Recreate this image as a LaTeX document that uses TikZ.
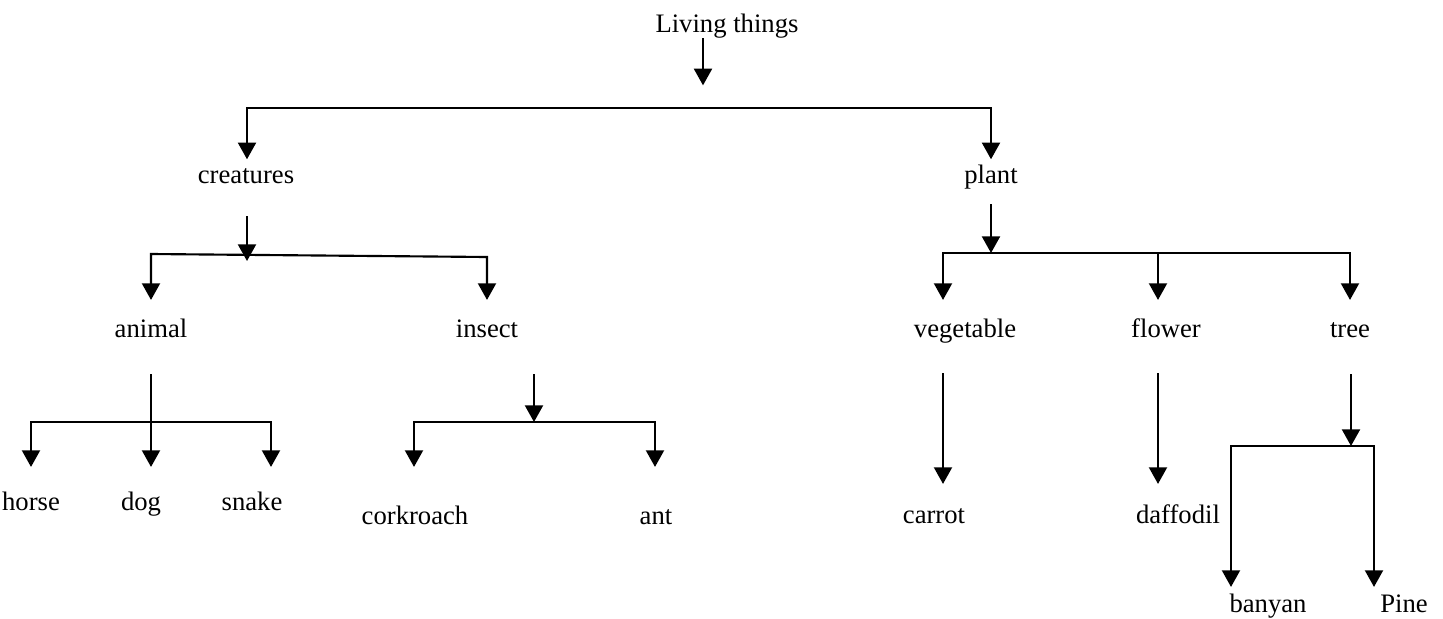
\documentclass[tikz,border=0pt]{standalone}
\usepackage{fontspec}
\setmainfont{Liberation Serif}
\usetikzlibrary{arrows.meta}

\begin{document}
\begin{tikzpicture}[x=0.75pt,y=-0.75pt,>={Triangle[width=13.5pt,length=12.5pt]},line width=1.6pt,
  every node/.style={font=\fontsize{20}{24}\selectfont,inner sep=0pt,text height=14pt,text depth=4pt,anchor=base}]

\useasboundingbox (0,0) rectangle (1443,618);

\node (living)    at (727,32)  {Living things};
\node (creatures) at (246,183) {creatures};
\node (plant)     at (991,183) {plant};
\node (animal)    at (151,337) {animal};
\node (insect)    at (487,337) {insect};
\node (vegetable) at (965,337) {vegetable};
\node (flower)    at (1166,337) {flower};
\node (tree)      at (1350,337) {tree};
\node (horse)     at (31,510)  {horse};
\node (dog)       at (141,510) {dog};
\node (snake)     at (252,510) {snake};
\node (corkroach) at (415,524) {corkroach};
\node (ant)       at (656,524) {ant};
\node (carrot)    at (934,523) {carrot};
\node (daffodil)  at (1178,523) {daffodil};
\node (banyan)    at (1268,612) {banyan};
\node (pine)      at (1404,612) {Pine};

% branch bars
\coordinate (b0) at (703,108);  \coordinate (b0l) at (247,108); \coordinate (b0r) at (991,108);
\coordinate (b1) at (247,261);  \coordinate (b1l) at (151,254); \coordinate (b1r) at (487,257);
\coordinate (b2) at (151,422);  \coordinate (b2l) at (31,422);  \coordinate (b2r) at (271,422);
\coordinate (b3) at (534,422);  \coordinate (b3l) at (414,422); \coordinate (b3r) at (655,422);
\coordinate (b4) at (991,253);  \coordinate (b4l) at (943,253); \coordinate (b4m) at (1158,253); \coordinate (b4r) at (1350,253);
\coordinate (b5) at (1351,446); \coordinate (b5l) at (1231,446); \coordinate (b5r) at (1374,446);

% living things
\draw[->,shorten >=17pt] (b0 |- living.south) -- (b0);
\draw[<->,shorten <=3pt,shorten >=3pt] (b0l |- creatures.north) -- (b0l) -- (b0r) -- (b0r |- plant.north);

% creatures
\draw[->,shorten <=20pt] (b1 |- creatures.south) -- (b1);
\draw[<->,shorten <=13pt,shorten >=13pt] (b1l |- animal.north) -- (b1l) -- (b1r) -- (b1r |- insect.north);

% animal
\draw[->,shorten <=23pt,shorten >=17.5pt] (b2 |- animal.south) -- (b2 |- dog.north);
\draw[<->,shorten <=17.5pt,shorten >=17.5pt] (b2l |- horse.north) -- (b2l) -- (b2r) -- (b2r |- snake.north);

% insect
\draw[->,shorten <=23pt] (b3 |- insect.south) -- (b3);
\draw[<->,shorten <=28pt,shorten >=28pt] (b3l |- corkroach.north) -- (b3l) -- (b3r) -- (b3r |- ant.north);

% plant
\draw[->,shorten <=11pt] (b4 |- plant.south) -- (b4);
\draw[<->,shorten <=13pt,shorten >=13pt] (b4l |- vegetable.north) -- (b4l) -- (b4r) -- (b4r |- tree.north);
\draw[->,shorten >=13pt] (b4m) -- (b4m |- flower.north);

% vegetable, flower
\draw[->,shorten <=22.3pt,shorten >=14.5pt] (b4l |- vegetable.south) -- (b4l |- carrot.north);
\draw[->,shorten <=22.3pt,shorten >=14.5pt] (b4m |- flower.south) -- (b4m |- daffodil.north);

% tree
\draw[->,shorten <=23pt] (b5 |- tree.south) -- (b5);
\draw[<->,shorten <=4pt,shorten >=4pt] (b5l |- banyan.north) -- (b5l) -- (b5r) -- (b5r |- pine.north);

\end{tikzpicture}
\end{document}
